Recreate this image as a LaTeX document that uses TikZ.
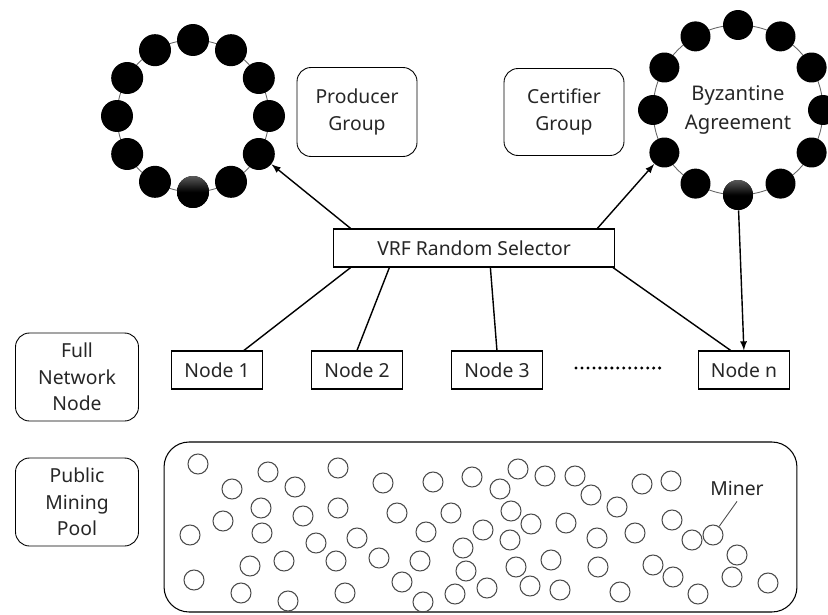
\documentclass[tikz,border=0pt]{standalone}
\usepackage{fontspec}
\setmainfont{Noto Sans}
\usetikzlibrary{shapes,arrows,positioning}
\tikzstyle{block} = [draw, rectangle, line width=0.6pt, minimum height=0.76cm, minimum width=1.82cm]
\tikzstyle{group} = [draw, rectangle, rounded corners=0.28cm, line width=0.5pt, align=center]
\tikzstyle{bead} = [circle, fill=black, inner sep=0pt, minimum size=0.64cm]
\tikzstyle{shadedbead} = [top color=black!65, bottom color=black, middle color=black]
\tikzstyle{miner} = [circle, draw=black!70, line width=0.6pt, inner sep=0pt, minimum size=0.4cm]

\begin{document}
\begin{tikzpicture}[x=0.02cm, y=-0.02cm, node distance=2.8cm, >=latex,
  font=\fontsize{11}{15}\selectfont, text=black!85]
\useasboundingbox (0,0) rectangle (828,615);

% producer ring
\begin{scope}[shift={(193,116)}]
  \draw[black!60, line width=0.5pt] (0,0) circle (76);
  \foreach \a in {0,30,60,120,150,180,210,240,270,300,330}
    \node[bead] (p\a) at (\a:76) {};
  \node[bead, shadedbead] (p90) at (90:76) {};
\end{scope}

% certifier ring
\begin{scope}[shift={(738,110)}]
  \draw[black!60, line width=0.5pt] (0,0) circle (85);
  \foreach \a in {0,30,60,120,150,180,210,240,270,300,330}
    \node[bead, minimum size=0.6cm] (c\a) at (\a:85) {};
  \node[bead, shadedbead, minimum size=0.6cm] (c90) at (90:85) {};
  \node[align=center, font=\fontsize{11.5}{16}\selectfont] (bft) at (0,0) {Byzantine\\Agreement};
\end{scope}

\node[group, minimum width=2.4cm, minimum height=1.78cm] (producer) at (357,112) {Producer\\Group};
\node[group, minimum width=2.4cm, minimum height=1.74cm] (certifier) at (564,112) {Certifier\\Group};

\node[block, minimum width=5.62cm] (vrf) at (474,248) {VRF Random Selector};

% full network nodes
\node[block] (n1) at (217,370) {Node 1};
\node[block, right of=n1] (n2) {Node 2};
\node[block, right of=n2] (n3) {Node 3};
\node[block, right of=n3, node distance=4.94cm] (nn) {Node n};
\draw[line width=1.9pt, line cap=round, dash pattern=on 0pt off 3.4pt] (576,368) -- (660,368);

\node[group, minimum width=2.46cm, minimum height=1.76cm] (full) at (77,377) {Full\\Network\\Node};
\node[group, minimum width=2.46cm, minimum height=1.76cm] (public) at (77,502) {Public\\Mining\\Pool};

% mining pool
\node[draw, rectangle, rounded corners=0.5cm, line width=0.6pt, minimum width=12.66cm, minimum height=3.4cm] (pool) at (480.5,527) {};
\foreach \x/\y in {198/464,268/472,338/468,232/489,295/487,383/483,433/482,472/477,
  261/508,303/516,338/508,397/513,451/513,223/521,190/535,262/533,316/543,357/538,
  426/532,483/530,463/548,250/566,284/561,336/561,379/558,420/561,466/571,194/580,
  241/593,288/601,345/593,402/582,423/602,455/594,487/588,
  518/469,545/476,575/476,500/489,591/495,617/507,642/484,671/481,511/511,531/524,
  566/523,510/540,597/538,635/533,672/520,692/540,737/555,551/560,516/567,598/567,
  653/565,673/577,732/577,768/583,530/586,560/590,620/592,698/594}
  \node[miner] at (\x,\y) {};
\node[miner] (m) at (713,535) {};
\node (minerlabel) at (737,488) {Miner};
\draw[black!70, line width=0.5pt] (minerlabel.south) -- (m);

% connections
\draw[->, line width=0.8pt] (vrf.171) -- (p30);
\draw[->, line width=0.8pt] (vrf.9) -- (c150);
\draw[->, line width=0.8pt] (c90) -- (nn.north);
\draw[line width=0.8pt] (vrf.189) -- (n1.36);
\draw[line width=0.8pt] (vrf.193) -- (n2.north);
\draw[line width=0.8pt] (vrf.310) -- (n3.north);
\draw[line width=0.8pt] (vrf.352) -- (nn.124);

\end{tikzpicture}
\end{document}
